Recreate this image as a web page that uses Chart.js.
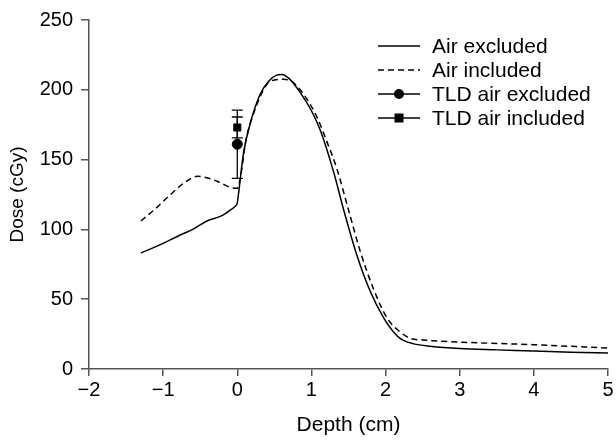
<!DOCTYPE html>
<html>
<head>
<meta charset="utf-8">
<script src="https://cdn.jsdelivr.net/npm/chart.js@4"></script>
<style>
  html, body { margin: 0; padding: 0; background: #fff; }
  canvas { display: block; }
</style>
</head>
<body>
<canvas id="dose" width="616" height="441"></canvas>
<script>
// depth (cm) and dose (cGy)
var excludedDepth = [-1.3, -1.0, -0.77, -0.6, -0.41, -0.2, -0.09, -0.02, 0, 0.02, 0.04, 0.085, 0.175, 0.31, 0.42, 0.53, 0.6, 0.7, 0.85, 1.0, 1.12, 1.3, 1.43, 1.61, 1.79, 1.97, 2.15, 2.24, 2.38, 2.6, 3.0, 3.5, 4.0, 4.5, 5.0];
var excludedDose  = [83, 90, 96, 100, 106, 110, 114, 117, 119, 127, 136, 155, 176, 197, 206, 210.5, 211, 208, 198, 185, 171, 141, 115, 82, 56, 37, 24, 20.5, 18, 16.3, 14.6, 13.7, 12.9, 12, 11.4];

var includedDepth = [-1.3, -1.1, -0.9, -0.7, -0.54, -0.41, -0.25, -0.09, 0, 0.03, 0.06, 0.11, 0.22, 0.4, 0.5, 0.62, 0.72, 0.8, 0.93, 1.07, 1.2, 1.34, 1.5, 1.66, 1.84, 2.02, 2.2, 2.33, 2.5, 3.0, 4.0, 5.0];
var includedDose  = [106, 115, 125, 134, 138, 137, 134, 130, 129.5, 134, 143, 162, 183, 204, 207, 207.5, 206.5, 203, 194, 181, 164, 144, 114, 84, 57, 36.5, 26.4, 22, 20.8, 19.3, 17.4, 15];

// TLD measurements with error bars
var tldDepth = [0];
var tldExcludedDose = [161];
var tldExcludedErr = [24.5];
var tldIncludedDose = [173];
var tldIncludedErr = [7.5];

var xTicks = [-2, -1, 0, 1, 2, 3, 4, 5];
var yTicks = [0, 50, 100, 150, 200, 250];

var legendLabels = ["Air excluded", "Air included", "TLD air excluded", "TLD air included"];

function toPoints(xs, ys) {
    return xs.map(function (x, i) { return { x: x, y: ys[i] }; });
}

var errorBars = {
    id: 'errorBars',
    beforeDatasetsDraw: function (chart) {
        var c = chart.ctx, xs = chart.scales.x, ys = chart.scales.y;
        var sets = [[tldExcludedDose, tldExcludedErr], [tldIncludedDose, tldIncludedErr]];
        c.save();
        c.strokeStyle = '#000';
        c.lineWidth = 1.3;
        sets.forEach(function (s) {
            tldDepth.forEach(function (d, i) {
                var px = xs.getPixelForValue(d);
                var top = ys.getPixelForValue(s[0][i] + s[1][i]);
                var bot = ys.getPixelForValue(s[0][i] - s[1][i]);
                c.beginPath();
                c.moveTo(px, top); c.lineTo(px, bot);
                c.moveTo(px - 5.5, top); c.lineTo(px + 5.5, top);
                c.moveTo(px - 5.5, bot); c.lineTo(px + 5.5, bot);
                c.stroke();
            });
        });
        c.restore();
    }
};

var insideLegend = {
    id: 'insideLegend',
    afterDraw: function (chart) {
        var c = chart.ctx;
        var x0 = 378, x1 = 420, tx = 432;
        c.save();
        c.strokeStyle = '#000';
        c.fillStyle = '#000';
        c.lineWidth = 1.3;
        c.font = '21px "Liberation Sans", Arial, sans-serif';
        c.textBaseline = 'middle';
        legendLabels.forEach(function (lab, i) {
            var y = 46 + 24 * i;
            c.setLineDash(i === 1 ? [6, 4] : []);
            c.beginPath();
            c.moveTo(x0, y); c.lineTo(x1, y);
            c.stroke();
            c.setLineDash([]);
            var mx = (x0 + x1) / 2;
            if (i === 2) {
                c.beginPath(); c.arc(mx, y, 5, 0, Math.PI * 2); c.fill();
            } else if (i === 3) {
                c.fillRect(mx - 4.5, y - 4.5, 9, 9);
            }
            c.fillText(lab, tx, y + 1);
        });
        c.restore();
    }
};

var ctx = document.getElementById('dose').getContext('2d');
var doseChart = new Chart(ctx, {
    type: 'scatter',
    data: {
        datasets: [{
            label: legendLabels[0],
            data: toPoints(excludedDepth, excludedDose),
            showLine: true,
            borderColor: '#000',
            borderWidth: 1.5,
            pointRadius: 0,
            cubicInterpolationMode: 'monotone'
        }, {
            label: legendLabels[1],
            data: toPoints(includedDepth, includedDose),
            showLine: true,
            borderColor: '#000',
            borderWidth: 1.5,
            borderDash: [6, 4],
            pointRadius: 0,
            cubicInterpolationMode: 'monotone'
        }, {
            label: legendLabels[2],
            data: toPoints(tldDepth, tldExcludedDose),
            pointStyle: 'circle',
            pointRadius: 5,
            backgroundColor: '#000',
            borderColor: '#000'
        }, {
            label: legendLabels[3],
            data: toPoints(tldDepth, tldIncludedDose),
            pointStyle: 'rect',
            pointRadius: 5,
            backgroundColor: '#000',
            borderColor: '#000'
        }]
    },
    options: {
        responsive: false,
        animation: false,
        devicePixelRatio: 1,
        layout: { padding: { left: 0, top: 16, right: 8, bottom: 0 } },
        plugins: {
            legend: { display: false },
            tooltip: { enabled: false }
        },
        scales: {
            x: {
                type: 'linear',
                min: xTicks[0],
                max: xTicks[xTicks.length - 1],
                afterBuildTicks: function (s) { s.ticks = xTicks.map(function (v) { return { value: v }; }); },
                afterFit: function (s) { s.height = 72; },
                border: { color: '#555', width: 1.5 },
                grid: { drawOnChartArea: false, tickLength: 7, color: '#555', lineWidth: 1.5 },
                ticks: {
                    padding: 2,
                    color: '#000',
                    font: { family: '"Liberation Sans", Arial, sans-serif', size: 20 },
                    callback: function (v) { return String(v).replace('-', '\u2212'); }
                },
                title: {
                    display: true,
                    text: 'Depth (cm)',
                    color: '#000',
                    font: { family: '"Liberation Sans", Arial, sans-serif', size: 21 },
                    padding: { top: 0, bottom: 3 }
                }
            },
            y: {
                min: yTicks[0],
                max: yTicks[yTicks.length - 1],
                afterBuildTicks: function (s) { s.ticks = yTicks.map(function (v) { return { value: v }; }); },
                afterFit: function (s) { s.width = 89; },
                border: { color: '#555', width: 1.5 },
                grid: { drawOnChartArea: false, tickLength: 8, color: '#555', lineWidth: 1.5 },
                ticks: {
                    padding: 8,
                    color: '#000',
                    font: { family: '"Liberation Sans", Arial, sans-serif', size: 20 }
                },
                title: {
                    display: true,
                    text: 'Dose (cGy)',
                    color: '#000',
                    font: { family: '"Liberation Sans", Arial, sans-serif', size: 19 },
                    padding: { top: 6, bottom: 0 }
                }
            }
        }
    },
    plugins: [errorBars, insideLegend]
});
</script>
</body>
</html>
